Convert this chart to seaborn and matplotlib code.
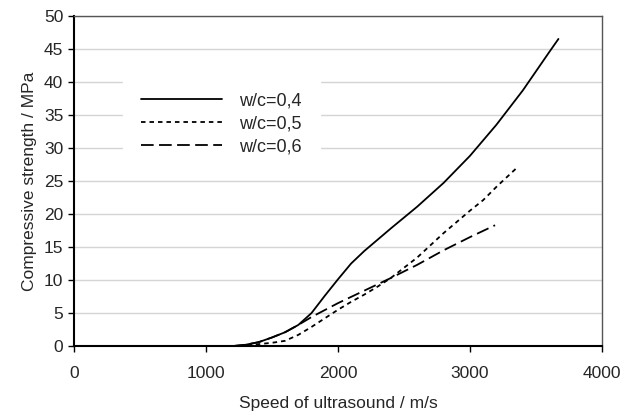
import numpy as np
import pandas as pd
import seaborn as sns
import matplotlib.pyplot as plt

# speed of ultrasound (m/s) and compressive strength (MPa)
speed_04 = [1200, 1300, 1400, 1500, 1600, 1700, 1800, 1900, 2000, 2100, 2200,
            2400, 2600, 2800, 3000, 3200, 3400, 3600, 3670]
strength_04 = [0.0, 0.2, 0.6, 1.3, 2.1, 3.2, 5.0, 7.6, 10.1, 12.5, 14.4,
               17.8, 21.1, 24.7, 28.8, 33.5, 38.7, 44.5, 46.5]

speed_05 = [1250, 1400, 1500, 1600, 1700, 1800, 1900, 2000, 2100, 2200, 2300,
            2400, 2600, 2800, 3000, 3100, 3200, 3350]
strength_05 = [0.0, 0.3, 0.5, 0.8, 1.7, 2.9, 4.2, 5.5, 6.7, 7.8, 9.0,
               10.3, 13.4, 17.1, 20.5, 22.1, 24.1, 26.9]

speed_06 = [1200, 1300, 1400, 1500, 1600, 1700, 1800, 2000, 2200, 2400, 2600,
            2800, 3000, 3190]
strength_06 = [0.0, 0.2, 0.6, 1.3, 2.1, 3.2, 4.4, 6.5, 8.4, 10.3, 12.3,
               14.5, 16.5, 18.3]

labels = ["w/c=0,4", "w/c=0,5", "w/c=0,6"]
x_ticks = [0, 1000, 2000, 3000, 4000]
y_ticks = [0, 5, 10, 15, 20, 25, 30, 35, 40, 45, 50]

df = pd.concat([
    pd.DataFrame({"speed": speed_04, "strength": strength_04, "wc": labels[0]}),
    pd.DataFrame({"speed": speed_05, "strength": strength_05, "wc": labels[1]}),
    pd.DataFrame({"speed": speed_06, "strength": strength_06, "wc": labels[2]}),
])

sns.set_style("white")
plt.rcParams['font.family'] = ['Liberation Sans', 'DejaVu Sans']

fig = plt.figure(figsize=(6.2, 4.16), dpi=100)
ax = fig.add_axes([0.119, 0.168, 0.852, 0.794])

sns.lineplot(data=df, x="speed", y="strength", hue="wc", style="wc",
             palette=["black"] * 3,
             dashes={labels[0]: "", labels[1]: (2.5, 2.2), labels[2]: (7, 3)},
             linewidth=1.3, sort=False, estimator=None, ax=ax)

ax.set_xlim(0, 4000)
ax.set_ylim(0, 50)
ax.set_xticks(x_ticks)
ax.set_yticks(y_ticks)
ax.yaxis.grid(True, color="#d4d4d4", linewidth=1)
ax.set_axisbelow(True)

for side in ["left", "bottom"]:
    ax.spines[side].set_color("black")
    ax.spines[side].set_linewidth(1.5)
for side in ["top", "right"]:
    ax.spines[side].set_color("#555555")
    ax.spines[side].set_linewidth(1.0)

ax.tick_params(axis="both", direction="out", length=4, width=1,
               labelsize=12.5, color="black", bottom=True, left=True)
ax.tick_params(axis="x", pad=10)

ax.set_xlabel("Speed of ultrasound / m/s", fontsize=12.5, labelpad=11)
ax.set_ylabel("Compressive strength / MPa", fontsize=12.5, labelpad=5)

handles, _ = ax.get_legend_handles_labels()
leg = ax.legend(handles=handles, labels=labels, loc="upper left",
                bbox_to_anchor=(0.093, 0.822), borderaxespad=0,
                frameon=True, fontsize=13,
                handlelength=4.5, handletextpad=0.95, labelspacing=0.32,
                borderpad=1.0)
leg.get_frame().set_facecolor("white")
leg.get_frame().set_edgecolor("white")
leg.get_frame().set_alpha(1)

plt.savefig("out.png", dpi=100)
plt.close()
